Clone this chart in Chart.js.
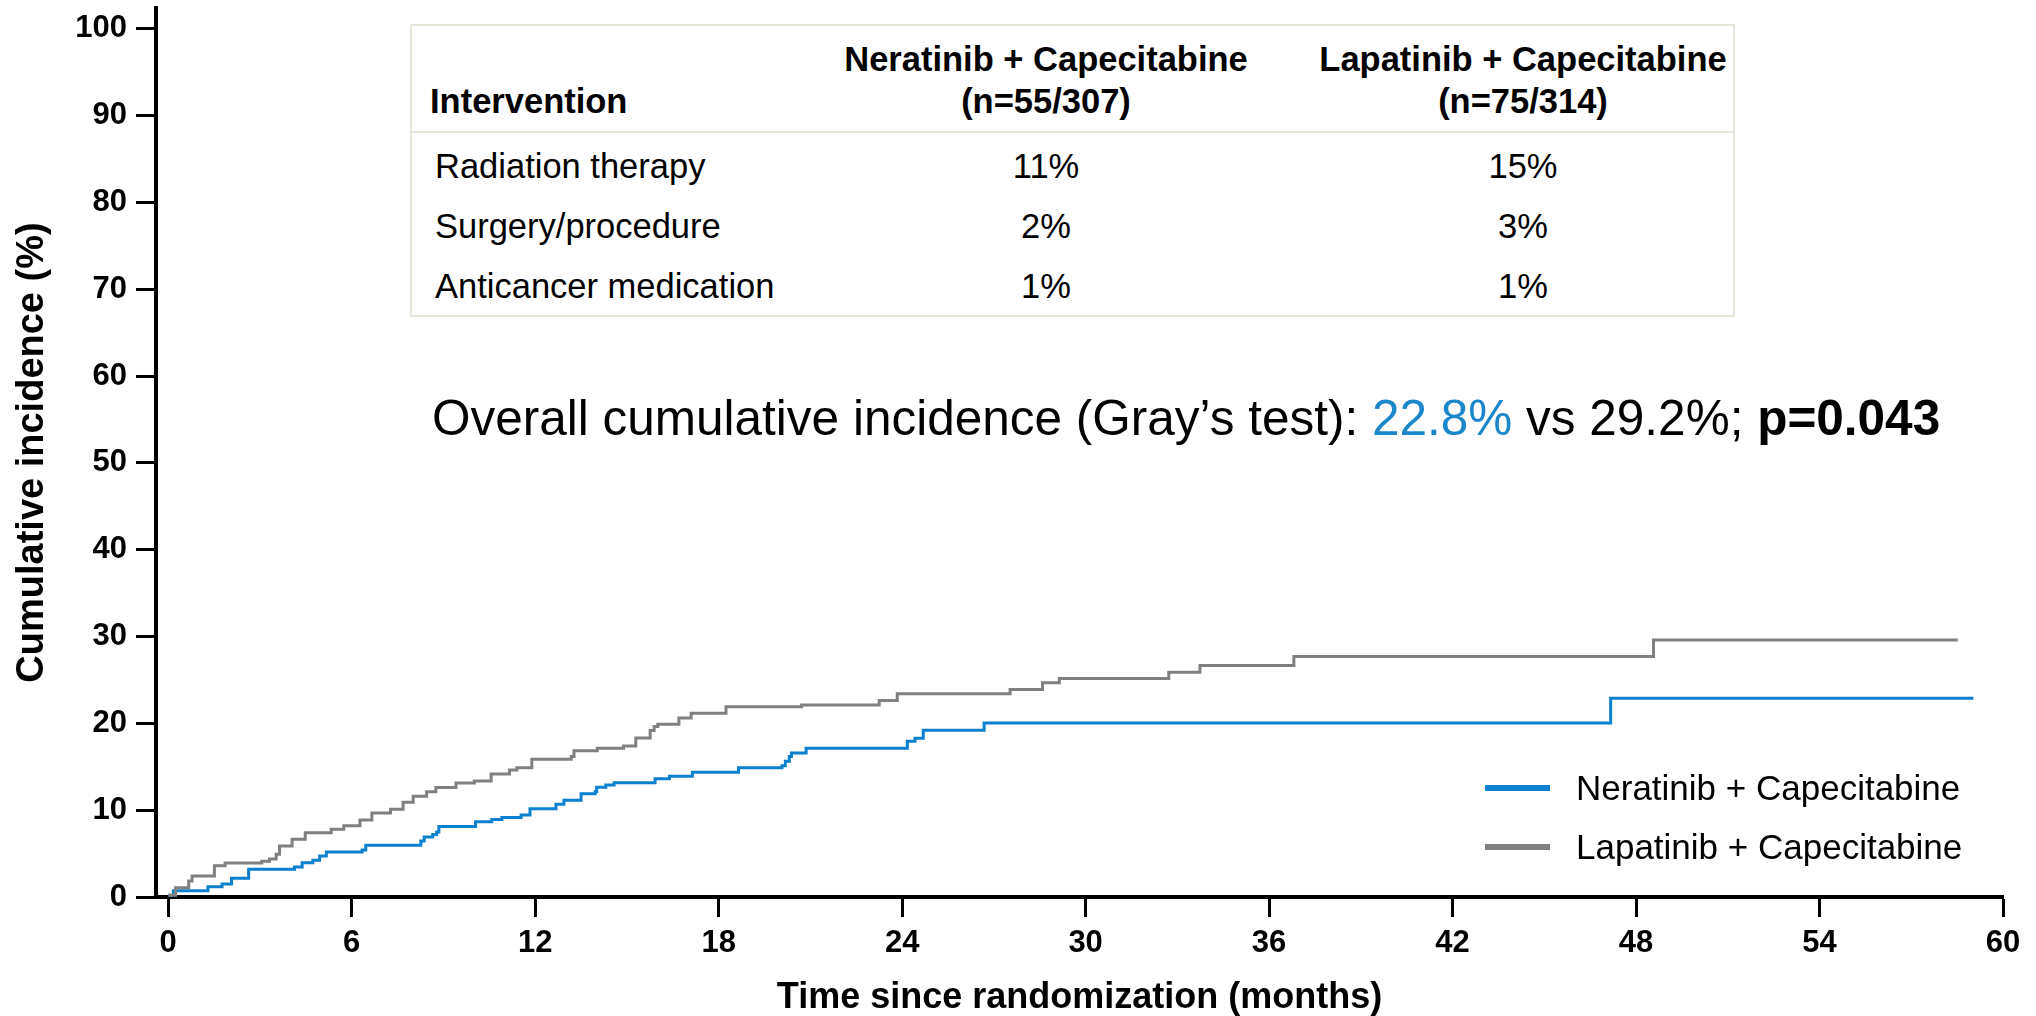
<!DOCTYPE html>
<html lang="en">
<head>
  <meta charset="UTF-8" />
  <title>Cumulative incidence of CNS intervention</title>
  <script src="https://cdn.jsdelivr.net/npm/chart.js"></script>
  <style>
    html, body {
      margin: 0;
      padding: 0;
      background: #fff;
      overflow: hidden;
    }
    #wrap {
      position: relative;
      width: 2036px;
      height: 1016px;
      font-family: "Liberation Sans", Arial, sans-serif;
      color: #000;
    }
    #chart {
      position: absolute;
      left: 0;
      top: 0;
    }
    .lbl {
      position: absolute;
      white-space: nowrap;
    }
    .box {
      position: absolute;
      border: 2px solid #e8e6da;
      background: #fff;
    }
    .rule {
      position: absolute;
      background: #e8e6da;
    }
    .swatch {
      position: absolute;
      height: 6px;
    }
  </style>
</head>
<body>
  <div id="wrap">
    <canvas id="chart" width="2036" height="1016"></canvas>
  </div>

  <script>
    // step curves (months, cumulative incidence %)
    const neratinibMonths = [0, 0.17, 1.30, 1.76, 2.07, 2.63, 4.13, 4.38, 4.73, 4.95, 5.17, 6.34, 6.46,
      8.26, 8.37, 8.65, 8.78, 8.85, 10.05, 10.58, 10.91, 11.54, 11.83, 12.68, 12.94, 13.50, 13.96, 14.01,
      14.31, 14.58, 15.92, 16.39, 17.14, 18.65, 20.07, 20.18, 20.31, 20.38, 20.86, 24.17, 24.42, 24.69,
      26.68, 47.17, 59.03];
    const neratinibIncidence = [0.2, 0.73, 1.19, 1.50, 2.15, 3.19, 3.46, 3.95, 4.23, 4.72, 5.18, 5.41, 5.95,
      6.45, 6.9, 7.2, 7.5, 8.13, 8.67, 8.94, 9.17, 9.44, 10.17, 10.67, 11.14, 11.9, 12.13, 12.64,
      12.9, 13.17, 13.63, 13.9, 14.36, 14.9, 15.13, 15.64, 16.17, 16.59, 17.13, 17.94, 18.3, 19.2,
      20.03, 22.9, 22.9];

    const lapatinibMonths = [0, 0.24, 0.67, 0.78, 1.51, 1.86, 3.06, 3.31, 3.53, 3.64, 4.05, 4.48,
      5.33, 5.74, 6.27, 6.66, 7.27, 7.68, 8.01, 8.45, 8.75, 9.41, 10.01, 10.56, 11.16, 11.40, 11.89,
      13.18, 13.27, 14.03, 14.89, 15.29, 15.76, 15.89, 16.01, 16.70, 17.10, 18.24, 20.71, 23.25, 23.84,
      27.53, 28.59, 29.14, 32.72, 33.74, 36.81, 48.57, 58.52];
    const lapatinibIncidence = [0.2, 1.07, 1.84, 2.42, 3.6, 3.92, 4.11, 4.38, 4.92, 5.88, 6.65, 7.41,
      7.8, 8.21, 8.87, 9.67, 10.1, 10.9, 11.6, 12.13, 12.6, 13.13, 13.36, 14.17, 14.63, 14.9, 15.87,
      16.17, 16.86, 17.13, 17.4, 18.32, 19.17, 19.63, 19.9, 20.63, 21.17, 21.9, 22.13, 22.63, 23.4,
      23.9, 24.67, 25.17, 25.9, 26.66, 27.7, 29.6, 29.6];

    const xTicks = [0, 6, 12, 18, 24, 30, 36, 42, 48, 54, 60];
    const yTicks = [0, 10, 20, 30, 40, 50, 60, 70, 80, 90, 100];

    const seriesNames = ["Neratinib + Capecitabine", "Lapatinib + Capecitabine"];
    const seriesN = ["(n=55/307)", "(n=75/314)"];
    const interventions = ["Radiation therapy", "Surgery/procedure", "Anticancer medication"];
    const neratinibShare = ["11%", "2%", "1%"];
    const lapatinibShare = ["15%", "3%", "1%"];
    const overallNeratinib = "22.8%";
    const overallLapatinib = "29.2%";
    const pValue = "p=0.043";

    const blue = "#0a80ce";
    const grey = "#808080";
    const fontFamily = "'Liberation Sans', Arial, sans-serif";

    const toPoints = (xs, ys) => xs.map((x, i) => ({ x: x, y: ys[i] }));

    const chart = new Chart(document.getElementById("chart"), {
      type: "line",
      data: {
        datasets: [
          {
            label: seriesNames[1],
            data: toPoints(lapatinibMonths, lapatinibIncidence),
            borderColor: grey,
            borderWidth: 3,
            stepped: true,
            pointRadius: 0,
            fill: false
          },
          {
            label: seriesNames[0],
            data: toPoints(neratinibMonths, neratinibIncidence),
            borderColor: blue,
            borderWidth: 3,
            stepped: true,
            pointRadius: 0,
            fill: false
          }
        ]
      },
      options: {
        responsive: false,
        animation: false,
        layout: { padding: { top: 8, right: 33, bottom: 0, left: 0 } },
        plugins: {
          legend: { display: false },
          tooltip: { enabled: false }
        },
        scales: {
          x: {
            type: "linear",
            min: -0.4,
            max: 60,
            afterBuildTicks: s => { s.ticks = xTicks.map(v => ({ value: v })); },
            afterFit: s => { s.height = 119; s.paddingLeft = 0; s.paddingRight = 0; },
            grid: { drawOnChartArea: false, tickLength: 20, tickWidth: 3, tickColor: "#000" },
            border: { color: "#000", width: 4 },
            ticks: {
              color: "#000",
              padding: 8,
              maxRotation: 0,
              autoSkip: false,
              font: { family: fontFamily, size: 31, weight: "bold" }
            },
            title: {
              display: true,
              text: "Time since randomization (months)",
              color: "#000",
              padding: { top: 0, bottom: 0 },
              font: { family: fontFamily, size: 36, weight: "bold", lineHeight: 1 }
            }
          },
          y: {
            min: 0,
            max: 102.4,
            afterBuildTicks: s => { s.ticks = yTicks.map(v => ({ value: v })); },
            afterFit: s => { s.width = 156; s.paddingTop = 0; s.paddingBottom = 0; },
            grid: { drawOnChartArea: false, tickLength: 20, tickWidth: 3, tickColor: "#000" },
            border: { color: "#000", width: 4 },
            ticks: {
              color: "#000",
              padding: 9,
              font: { family: fontFamily, size: 31, weight: "bold" }
            },
            title: {
              display: true,
              text: "Cumulative incidence (%)",
              color: "#000",
              padding: { top: 10, bottom: 0 },
              font: { family: fontFamily, size: 38, weight: "bold", lineHeight: 1.2 }
            }
          }
        }
      }
    });

    // overlay text: table, annotation, legend
    const wrap = document.getElementById("wrap");

    function place(html, x, y, size, align, bold, color) {
      const el = document.createElement("div");
      el.className = "lbl";
      el.innerHTML = html;
      el.style.fontSize = size + "px";
      el.style.lineHeight = (size * 1.2) + "px";
      el.style.top = (y - size * 0.6) + "px";
      el.style.left = x + "px";
      if (align === "center") el.style.transform = "translateX(-50%)";
      if (bold) el.style.fontWeight = "bold";
      if (color) el.style.color = color;
      wrap.appendChild(el);
      return el;
    }

    const box = document.createElement("div");
    box.className = "box";
    Object.assign(box.style, { left: "410px", top: "24px", width: "1321px", height: "289px" });
    wrap.appendChild(box);
    const rule = document.createElement("div");
    rule.className = "rule";
    Object.assign(rule.style, { left: "410px", top: "131px", width: "1323px", height: "2px" });
    wrap.appendChild(rule);

    const colX = [1046, 1523];
    place("Intervention", 430, 102, 34.5, "left", true);
    seriesNames.forEach((name, i) => {
      place(name, colX[i], 60, 34.5, "center", true);
      place(seriesN[i], colX[i], 102, 34.5, "center", true);
    });
    interventions.forEach((name, i) => {
      const y = 167 + i * 60;
      place(name, 435, y, 34.5, "left", false);
      place(neratinibShare[i], colX[0], y, 34.5, "center", false);
      place(lapatinibShare[i], colX[1], y, 34.5, "center", false);
    });

    place("Overall cumulative incidence (Gray\u2019s test): " +
      "<span style=\"color:#1a87cb\">" + overallNeratinib + "</span> vs " + overallLapatinib +
      "; <b>" + pValue + "</b>", 432, 418, 49.5, "left", false);

    [blue, grey].forEach((c, i) => {
      const y = 788 + i * 59;
      const sw = document.createElement("div");
      sw.className = "swatch";
      Object.assign(sw.style, { left: "1485px", top: (y - 3) + "px", width: "65px", background: c });
      wrap.appendChild(sw);
      place(seriesNames[i], 1576, y, 35, "left", false);
    });
  </script>
</body>
</html>
